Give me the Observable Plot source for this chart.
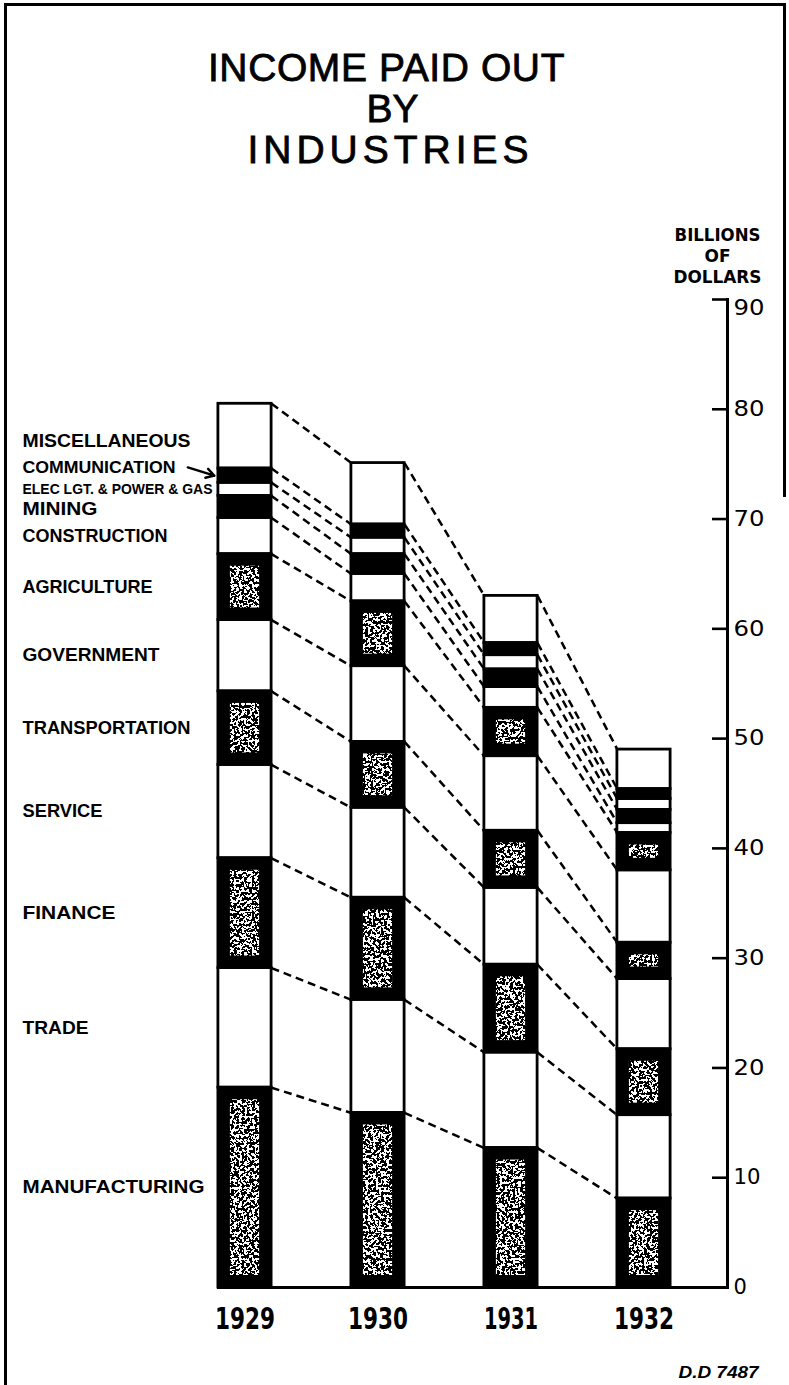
<!DOCTYPE html>
<html>
<head>
<meta charset="utf-8">
<script src="https://cdn.jsdelivr.net/npm/d3@7"></script>
<script src="https://cdn.jsdelivr.net/npm/@observablehq/plot@0.6"></script>
<style>
  body { margin: 0; background: #fff; }
  #page { position: relative; width: 789px; height: 1385px; overflow: hidden; background: #fff; }
  .edge { position: absolute; background: #000; }
  #title { height: 190px; box-sizing: border-box; padding-top: 47px; text-align: center;
           font-family: "Liberation Sans", Arial, sans-serif; font-size: 39px; line-height: 41px; color: #000;
           -webkit-text-stroke: 0.8px #000; }
  #title .l1 { letter-spacing: 0.6px; margin-left: -16px; }
  #title .l2 { margin-left: -4px; }
  #title .l3 { letter-spacing: 5px; margin-left: -8px; }
  #chart svg { display: block; }
</style>
</head>
<body>
<div id="page">
  <div class="edge" style="left:4px;top:3px;width:782px;height:3px"></div>
  <div class="edge" style="left:4px;top:3px;width:3px;height:1382px"></div>
  <div class="edge" style="left:783px;top:3px;width:3px;height:494px"></div>
  <div id="title">
    <div class="l1">INCOME PAID OUT</div>
    <div class="l2">BY</div>
    <div class="l3">INDUSTRIES</div>
  </div>
  <div id="chart"></div>
</div>
<script>
// ---------------- data (billions of dollars) ----------------
const years = [1929, 1930, 1931, 1932];
const industries = ["MANUFACTURING", "TRADE", "FINANCE", "SERVICE", "TRANSPORTATION", "GOVERNMENT",
  "AGRICULTURE", "CONSTRUCTION", "MINING", "ELEC LGT. & POWER & GAS", "COMMUNICATION", "MISCELLANEOUS"];
const manufacturing  = [18.2, 15.9, 12.7, 8.1];
const trade          = [10.9, 10.3, 8.7, 7.6];
const finance        = [10.0, 9.3, 8.0, 6.0];
const service        = [8.5, 8.2, 7.0, 6.4];
const transportation = [6.7, 6.0, 5.2, 3.3];
const government     = [6.5, 6.9, 6.8, 6.6];
const agriculture    = [6.0, 5.9, 4.4, 3.4];
const construction   = [3.3, 2.5, 1.9, 0.9];
const mining         = [2.0, 1.8, 1.6, 1.2];
const elec           = [1.2, 1.5, 1.3, 1.0];
const communication  = [1.3, 1.2, 1.1, 0.9];
const miscellaneous  = [5.9, 5.6, 4.3, 3.6];
const yTicks = [0, 10, 20, 30, 40, 50, 60, 70, 80, 90];
const axisHeader = ["BILLIONS", "OF", "DOLLARS"];
const credit = "D.D 7487";

// ---------------- derived tables ----------------
const series = [manufacturing, trade, finance, service, transportation, government,
  agriculture, construction, mining, elec, communication, miscellaneous];
const half = 0.2; // half bar width, in years

const segments = [];
const tops = years.map(() => []);
years.forEach((year, j) => {
  let cum = 0;
  industries.forEach((ind, k) => {
    const v = series[k][j];
    segments.push({year, industry: ind, y1: cum, y2: cum + v});
    cum += v;
    tops[j][k] = cum;
  });
});

const links = [];
industries.forEach((ind, k) => {
  for (let j = 0; j < years.length - 1; j++) {
    links.push({x1: years[j] + half, y1: tops[j][k], x2: years[j + 1] - half, y2: tops[j + 1][k]});
  }
});

const labelRows = segments.filter(d => d.year === years[0])
  .map(d => ({industry: d.industry, y: (d.y1 + d.y2) / 2, top: d.y2}));
const commRow = labelRows.find(d => d.industry === "COMMUNICATION");

// ---------------- styles ----------------
const speckled = new Set(["MANUFACTURING", "FINANCE", "TRANSPORTATION", "AGRICULTURE"]);
const solidDark = new Set(["MINING", "COMMUNICATION"]);
const isDark = d => speckled.has(d.industry) || solidDark.has(d.industry);
const labelDy = {"MISCELLANEOUS": 5, "COMMUNICATION": -8, "MINING": 2};
const labelSize = {"COMMUNICATION": 17, "ELEC LGT. & POWER & GAS": 15};
const textWidths = {
  "MISCELLANEOUS": 168, "COMMUNICATION": 153, "ELEC LGT. & POWER & GAS": 190, "MINING": 75,
  "CONSTRUCTION": 145, "AGRICULTURE": 130, "GOVERNMENT": 137, "TRANSPORTATION": 168,
  "SERVICE": 80, "FINANCE": 93, "TRADE": 66, "MANUFACTURING": 182,
  "1929": 60, "1930": 60, "1931": 54, "1932": 60,
  "BILLIONS": 86, "OF": 26, "DOLLARS": 88, "D.D 7487": 80,
  "20": 31, "30": 31, "40": 31, "50": 31, "60": 31, "70": 31, "80": 31, "90": 31, "10": 27
};
const labelFont = "'Liberation Sans', Arial, sans-serif";
const condensed = "'DejaVu Sans Condensed', 'Liberation Sans', sans-serif";
const bar = {x1: d => d.year - half, x2: d => d.year + half, y1: "y1", y2: "y2"};

const labelMarks = labelRows.map(row => Plot.text([row], {
  text: "industry", y: "y", frameAnchor: "left", dx: -195, dy: labelDy[row.industry] || 0,
  textAnchor: "start", fontSize: labelSize[row.industry] || 18, fontWeight: "bold", fontFamily: labelFont
}));

const headerMarks = axisHeader.map((t, i) => Plot.text([t], {
  text: d => d, frameAnchor: "top-right", dx: -10, dy: [-64, -43, -22][i], textAnchor: "middle",
  lineAnchor: "middle", fontSize: 18, fontWeight: "bold", fontFamily: condensed
}));

const plot = Plot.plot({
  width: 789,
  height: 1195,
  marginTop: 109,
  marginBottom: 98,
  marginLeft: 217,
  marginRight: 62,
  style: {background: "transparent", color: "black", fontFamily: labelFont},
  x: {type: "linear", domain: [years[0], years[years.length - 1]], range: [244.5, 643.5]},
  y: {domain: [0, 90]},
  marks: [
    Plot.link(links, {x1: "x1", y1: "y1", x2: "x2", y2: "y2", stroke: "black", strokeWidth: 2.5, strokeDasharray: "8,5"}),
    Plot.rect(segments.filter(d => !isDark(d)), {...bar, fill: "white", stroke: "black", strokeWidth: 2.8}),
    Plot.rect(segments.filter(isDark), {...bar, fill: "black", stroke: "black", strokeWidth: 2.8}),
    Plot.rect(segments.filter(d => speckled.has(d.industry)), {...bar,
      fill: "url(#speck)", insetLeft: 12, insetRight: 12, insetTop: 12, insetBottom: 12}),
    Plot.ruleY([0], {stroke: "black", strokeWidth: 3}),
    Plot.frame({anchor: "right", stroke: "black", strokeWidth: 3}),
    Plot.axisY({anchor: "right", ticks: yTicks, tickSize: 16, dx: -16, tickFormat: () => "", strokeWidth: 2.6}),
    Plot.axisY({anchor: "right", ticks: yTicks.filter(t => t < 90), tickSize: 0, tickPadding: 6, tickFormat: d => String(d),
      fontSize: 21, fontFamily: "'DejaVu Sans', sans-serif", textAnchor: "start"}),
    Plot.axisY({anchor: "right", ticks: yTicks.filter(t => t === 90), tickSize: 0, tickPadding: 6, dy: 9,
      tickFormat: d => String(d), fontSize: 21, fontFamily: "'DejaVu Sans', sans-serif", textAnchor: "start"}),
    Plot.axisX({ticks: years, tickSize: 0, tickPadding: 19, tickFormat: d => String(d),
      fontSize: 31, fontWeight: "bold", fontFamily: condensed}),
    ...labelMarks,
    Plot.arrow([commRow], {x1: years[0] - half - 0.23, y1: d => d.top + 0.1, x2: years[0] - half - 0.03, y2: "y",
      stroke: "black", strokeWidth: 2.4, headLength: 7, bend: 0}),
    ...headerMarks,
    Plot.text([credit], {text: d => d, frameAnchor: "bottom-right", dx: 31, dy: 90, textAnchor: "end",
      fontSize: 17, fontWeight: "bold", fontStyle: "italic", fontFamily: labelFont})
  ]
});

// fit text widths to the reference lettering (styling only)
d3.select(plot).selectAll("text").each(function() {
  const w = textWidths[this.textContent];
  if (w) { this.setAttribute("textLength", w); this.setAttribute("lengthAdjust", "spacingAndGlyphs"); }
});

// speckle texture
const defsSrc = `<svg xmlns="http://www.w3.org/2000/svg"><defs>
<filter id="noiseF" x="0" y="0" width="789" height="1195" filterUnits="userSpaceOnUse">
  <feTurbulence type="fractalNoise" baseFrequency="0.38" numOctaves="2" seed="11" result="t"/>
  <feColorMatrix in="t" type="matrix" values="0 0 0 0 1  0 0 0 0 1  0 0 0 0 1  2.2 0 0 0 -0.62" result="w"/>
  <feComponentTransfer in="w" result="b"><feFuncA type="discrete" tableValues="0 1"/></feComponentTransfer>
  <feFlood flood-color="black" result="k"/>
  <feMerge><feMergeNode in="k"/><feMergeNode in="b"/></feMerge>
</filter>
<pattern id="speck" patternUnits="userSpaceOnUse" x="0" y="0" width="789" height="1195">
  <rect x="0" y="0" width="789" height="1195" fill="white" filter="url(#noiseF)"/>
</pattern></defs></svg>`;
const doc = new DOMParser().parseFromString(defsSrc, "image/svg+xml");
plot.insertBefore(document.importNode(doc.documentElement.firstElementChild, true), plot.firstChild);

document.getElementById("chart").appendChild(plot);
</script>
</body>
</html>
